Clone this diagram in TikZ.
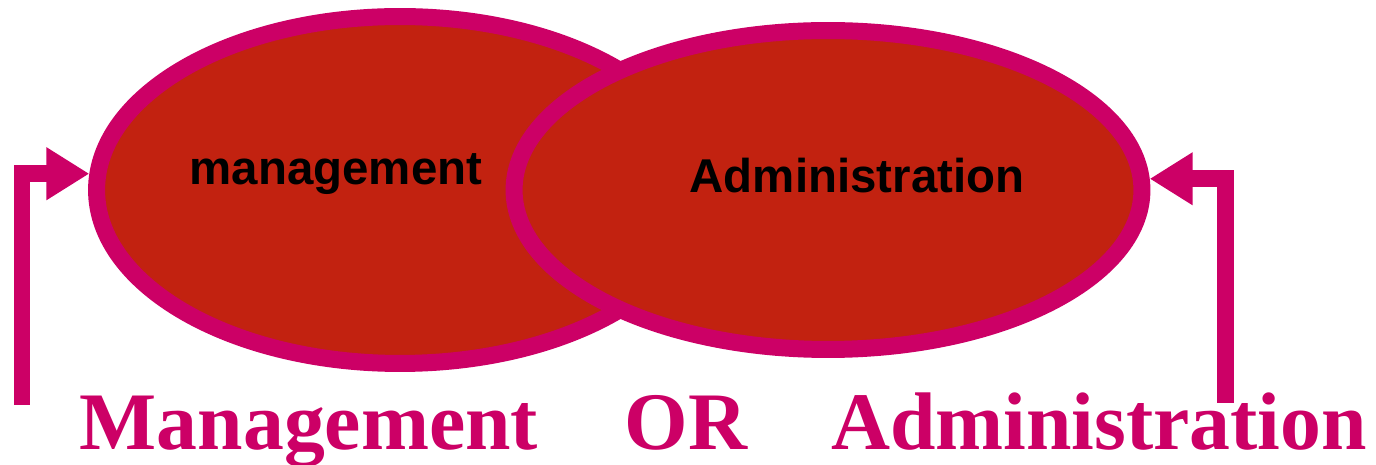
\documentclass[tikz,border=0pt]{standalone}
\usepackage{fontspec}
\setmainfont{Liberation Serif}
\newfontfamily\ovalfont{Liberation Sans}
\usepackage{tikz}
\usetikzlibrary{shapes.geometric,arrows.meta}
\usetikzlibrary{positioning}
\definecolor{ovalred}{RGB}{194,34,16}
\definecolor{rimpink}{RGB}{204,0,102}
\tikzstyle{oval} = [
	ellipse,
	draw = rimpink,
	fill = ovalred,
	line width = 0.34cm,
	inner sep = 0pt
]
\tikzstyle{inlabel} = [font=\ovalfont\bfseries\fontsize{27}{32}\selectfont, anchor=base]
\tikzstyle{bigword} = [font=\bfseries\fontsize{46.5}{54}\selectfont, text=rimpink, anchor=base]
\tikzstyle{feed} = [draw=rimpink, line width=0.34cm, -{Triangle[length=0.86cm,width=1cm]}]

\begin{document}
\begin{tikzpicture}[x=0.02cm, y=-0.02cm]
	\useasboundingbox (0,0) rectangle (1376,465);
	\node [oval, minimum width=12.14cm, minimum height=6.94cm] (mgmt) at (400,190) {};
	\node [oval, minimum width=12.56cm, minimum height=6.38cm] (admin) at (828,190) {};
	\node [inlabel] (mgmtlabel) at (336,185) {management};
	\node [inlabel] (adminlabel) at (857,193) {Administration};
	\coordinate (leftfoot) at (22,405);
	\coordinate (rightfoot) at (1225,403);
	
	\draw[feed] (leftfoot) |- (mgmt.177.8);
	\draw[feed] (rightfoot) |- (admin.2.0);
	
	\node [bigword] (mgmtword) at (309,450) {Management};
	\node [bigword] (orword) at (686,450) {OR};
	\node [bigword] (adminword) at (1099,450) {Administration};
\end{tikzpicture}
\end{document}
